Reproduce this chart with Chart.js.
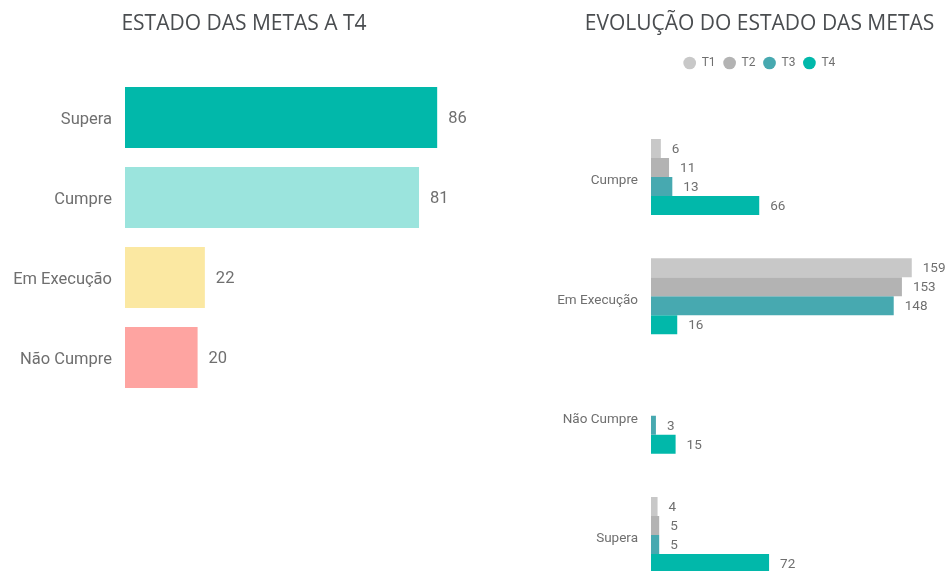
<!DOCTYPE html>
<html lang="pt">
<head>
<meta charset="utf-8">
<title>Estado das Metas</title>
<script src="https://cdn.jsdelivr.net/npm/chart.js@4"></script>
<style>
  html, body { margin: 0; padding: 0; background: #fff; overflow: hidden; width: 950px; height: 571px; }
  .painel { position: absolute; top: 0; }
  #painel-t4 { left: 0; width: 490px; height: 571px; }
  #painel-evolucao { left: 540px; width: 452px; height: 620px; }
</style>
</head>
<body>
<div class="painel" id="painel-t4"><canvas id="grafico-t4"></canvas></div>
<div class="painel" id="painel-evolucao"><canvas id="grafico-evolucao"></canvas></div>
<script>
// Estado das metas no T4
const estados = ['Supera', 'Cumpre', 'Em Execução', 'Não Cumpre'];
const metasT4 = [86, 81, 22, 20];
const coresEstado = ['#01B8AA', '#9BE4DD', '#FBE8A2', '#FEA4A1'];

// Evolução por trimestre
const estadosEvolucao = ['Cumpre', 'Em Execução', 'Não Cumpre', 'Supera'];
const trimestres = ['T1', 'T2', 'T3', 'T4'];
const valoresT1 = [6, 159, null, 4];
const valoresT2 = [11, 153, null, 5];
const valoresT3 = [13, 148, 3, 5];
const valoresT4 = [66, 16, 15, 72];
const coresTrimestre = ['#C8C8C8', '#B3B3B3', '#47A9B0', '#01B8AA'];

const fonteTitulo = { family: '"Open Sans", "Noto Sans", sans-serif', size: 21, weight: 'normal' };
const corTitulo = '#4a4d50';
const corTexto = '#6f6f6f';

// escreve o valor à frente de cada barra
const rotulosValor = {
  id: 'rotulosValor',
  afterDatasetsDraw(chart, args, opts) {
    const { ctx } = chart;
    ctx.save();
    ctx.font = opts.font || '13px Roboto';
    ctx.fillStyle = opts.color || corTexto;
    ctx.textAlign = 'left';
    ctx.textBaseline = 'middle';
    chart.data.datasets.forEach((ds, i) => {
      const meta = chart.getDatasetMeta(i);
      meta.data.forEach((barra, j) => {
        const v = ds.data[j];
        if (v === null || v === undefined) return;
        ctx.fillText(String(v), barra.x + (opts.gap || 11), barra.y + 1);
      });
    });
    ctx.restore();
  }
};

new Chart(document.getElementById('grafico-t4'), {
  type: 'bar',
  data: {
    labels: estados,
    datasets: [{
      label: 'T4',
      data: metasT4,
      backgroundColor: coresEstado,
      categoryPercentage: 1,
      barPercentage: 0.7625
    }]
  },
  options: {
    indexAxis: 'y',
    responsive: true,
    maintainAspectRatio: false,
    animation: false,
    layout: { padding: { top: 0, right: 2, bottom: 173.5, left: 0 } },
    plugins: {
      legend: { display: false },
      tooltip: { enabled: false },
      title: {
        display: true,
        text: 'ESTADO DAS METAS A T4',
        color: corTitulo,
        font: fonteTitulo,
        padding: { top: 11.4, bottom: 40.9 }
      },
      rotulosValor: { font: '16.5px Roboto', color: corTexto, gap: 11 }
    },
    scales: {
      x: { display: false, min: 0, max: 100 },
      y: {
        grid: { display: false, drawTicks: false },
        border: { display: false },
        ticks: { color: corTexto, font: { family: 'Roboto', size: 16.5 }, padding: 13, labelOffset: 2 },
        afterFit(escala) { escala.width = 125; }
      }
    }
  },
  plugins: [rotulosValor]
});

const seriesTrimestre = [valoresT1, valoresT2, valoresT3, valoresT4];

new Chart(document.getElementById('grafico-evolucao'), {
  type: 'bar',
  data: {
    labels: estadosEvolucao,
    datasets: trimestres.map((t, i) => ({
      label: t,
      data: seriesTrimestre[i],
      backgroundColor: coresTrimestre[i],
      categoryPercentage: 0.637,
      barPercentage: 1
    }))
  },
  options: {
    indexAxis: 'y',
    responsive: true,
    maintainAspectRatio: false,
    animation: false,
    layout: { padding: { top: 0, right: 13, bottom: 25.33, left: 0 } },
    plugins: {
      tooltip: { enabled: false },
      title: {
        display: true,
        text: 'EVOLUÇÃO DO ESTADO DAS METAS',
        color: corTitulo,
        font: fonteTitulo,
        padding: { top: 11.4, bottom: 12.4 }
      },
      legend: {
        display: true,
        position: 'top',
        labels: {
          usePointStyle: true,
          pointStyle: 'circle',
          boxHeight: 9,
          padding: 8,
          color: corTexto,
          font: { family: 'Roboto', size: 12 }
        }
      },
      rotulosValor: { font: '13.5px Roboto', color: corTexto, gap: 11 }
    },
    scales: {
      // eixo de valores escondido no topo, só reserva o espaço abaixo da legenda
      x: {
        position: 'top',
        min: 0,
        max: 200,
        grid: { display: false, drawTicks: false },
        border: { display: false },
        ticks: { display: false },
        afterFit(escala) { escala.height = 38.33; }
      },
      y: {
        grid: { display: false, drawTicks: false },
        border: { display: false },
        ticks: { color: corTexto, font: { family: 'Roboto', size: 13.5 }, padding: 13, labelOffset: 4 },
        afterFit(escala) { escala.width = 111; }
      }
    }
  },
  plugins: [rotulosValor]
});
</script>
</body>
</html>
